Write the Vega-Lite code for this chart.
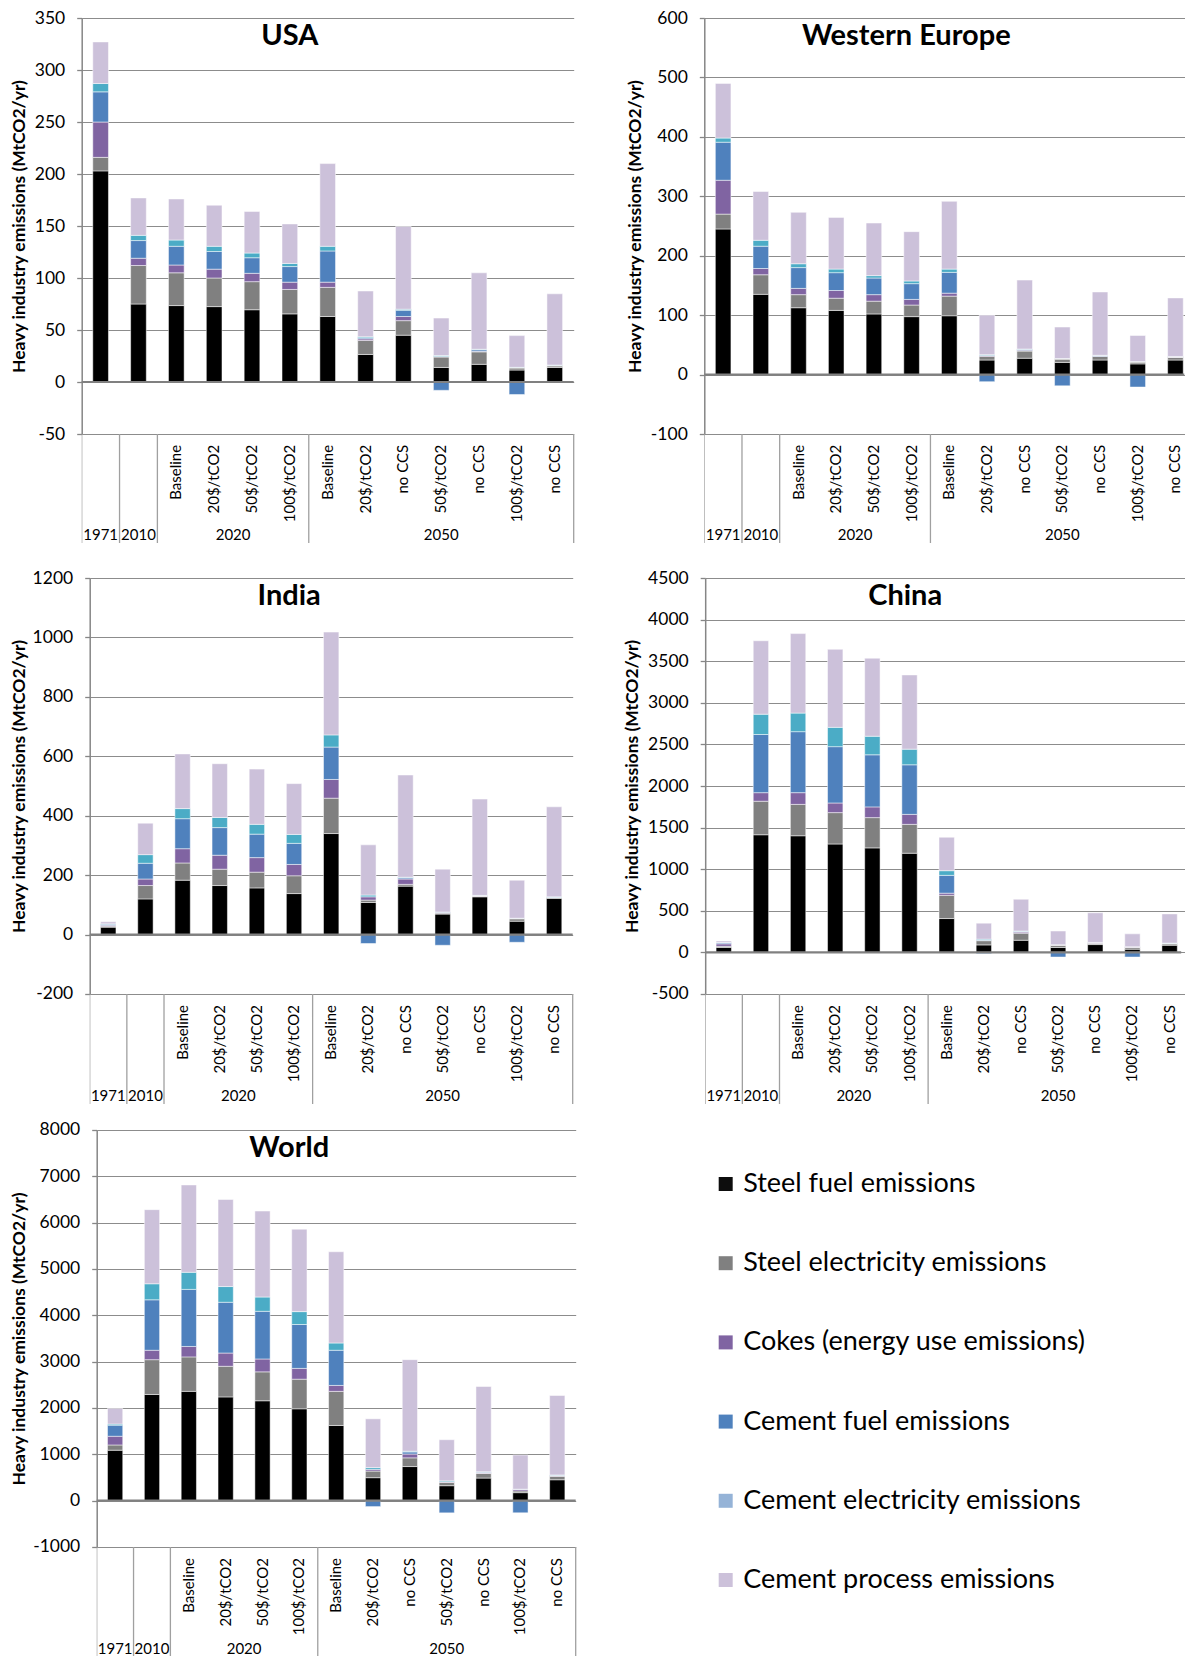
{
  "$schema": "https://vega.github.io/schema/vega-lite/v6.json",
  "background": "white",
  "padding": {"left": 8.7, "top": 9, "right": 0, "bottom": 0},
  "config": {
    "font": "Lato",
    "locale": {"number": {"decimal": ".", "thousands": ",", "grouping": [3], "currency": ["$", ""], "minus": "-"}},
    "view": {"stroke": null},
    "axisY": {"domainColor": "#868686", "domainWidth": 1.5, "tickColor": "#868686", "tickWidth": 1.3, "tickSize": 5, "gridColor": "#8c8c8c", "gridWidth": 1.2, "labelFontSize": 17.5, "labelColor": "#000000", "labelPadding": 12, "titleFontSize": 17.5, "titleFontWeight": "bold", "titleColor": "#000000", "titlePadding": 6, "format": "d"},
    "title": {"fontSize": 29, "fontWeight": "bold", "color": "#000000", "anchor": "middle", "frame": "group", "offset": -42},
    "text": {"color": "#000000"}
  },
  "datasets": {
    "series": [
      {"code": "sf", "series": "Steel fuel emissions", "k": 1},
      {"code": "se", "series": "Steel electricity emissions", "k": 2},
      {"code": "ck", "series": "Cokes (energy use emissions)", "k": 3},
      {"code": "cf", "series": "Cement fuel emissions", "k": 4},
      {"code": "ce", "series": "Cement electricity emissions", "k": 5},
      {"code": "cp", "series": "Cement process emissions", "k": 6}
    ],
    "cats": [
      {"cat": "1971", "year": "1971", "label": ""},
      {"cat": "2010", "year": "2010", "label": ""},
      {"cat": "2020 Baseline", "year": "2020", "label": "Baseline"},
      {"cat": "2020 20$/tCO2", "year": "2020", "label": "20$/tCO2"},
      {"cat": "2020 50$/tCO2", "year": "2020", "label": "50$/tCO2"},
      {"cat": "2020 100$/tCO2", "year": "2020", "label": "100$/tCO2"},
      {"cat": "2050 Baseline", "year": "2050", "label": "Baseline"},
      {"cat": "2050 20$/tCO2", "year": "2050", "label": "20$/tCO2"},
      {"cat": "2050 20$/tCO2 no CCS", "year": "2050", "label": "no CCS"},
      {"cat": "2050 50$/tCO2", "year": "2050", "label": "50$/tCO2"},
      {"cat": "2050 50$/tCO2 no CCS", "year": "2050", "label": "no CCS"},
      {"cat": "2050 100$/tCO2", "year": "2050", "label": "100$/tCO2"},
      {"cat": "2050 100$/tCO2 no CCS", "year": "2050", "label": "no CCS"}
    ],
    "emissions": [
      {"region": "USA", "cat": "1971", "sf": 203, "se": 13, "ck": 34, "cf": 29, "ce": 8, "cp": 40},
      {"region": "USA", "cat": "2010", "sf": 75, "se": 37, "ck": 7, "cf": 17, "ce": 5, "cp": 36},
      {"region": "USA", "cat": "2020 Baseline", "sf": 73.5, "se": 31.5, "ck": 7.5, "cf": 18, "ce": 6, "cp": 39.5},
      {"region": "USA", "cat": "2020 20$/tCO2", "sf": 72.5, "se": 27.5, "ck": 8.5, "cf": 17, "ce": 5, "cp": 39.5},
      {"region": "USA", "cat": "2020 50$/tCO2", "sf": 69.5, "se": 27, "ck": 8, "cf": 15, "ce": 4.5, "cp": 40},
      {"region": "USA", "cat": "2020 100$/tCO2", "sf": 65.5, "se": 23.5, "ck": 7, "cf": 15, "ce": 3, "cp": 38},
      {"region": "USA", "cat": "2050 Baseline", "sf": 63, "se": 28, "ck": 5, "cf": 30, "ce": 4.5, "cp": 79.5},
      {"region": "USA", "cat": "2050 20$/tCO2", "sf": 26.5, "se": 13.5, "ck": 1.5, "cf": 1, "ce": 1, "cp": 44},
      {"region": "USA", "cat": "2050 20$/tCO2 no CCS", "sf": 45, "se": 14, "ck": 4, "cf": 6, "ce": 1, "cp": 79.5},
      {"region": "USA", "cat": "2050 50$/tCO2", "sf": 14, "se": 10, "ck": 0.5, "cf": -8, "ce": 1, "cp": 36},
      {"region": "USA", "cat": "2050 50$/tCO2 no CCS", "sf": 17, "se": 12, "ck": 0.5, "cf": 1.5, "ce": 0.5, "cp": 73.5},
      {"region": "USA", "cat": "2050 100$/tCO2", "sf": 11.5, "se": 2, "ck": 0.3, "cf": -12, "ce": 0.3, "cp": 30.5},
      {"region": "USA", "cat": "2050 100$/tCO2 no CCS", "sf": 14, "se": 1.5, "ck": 0.3, "cf": 0.3, "ce": 0.2, "cp": 68.5},
      {"region": "Western Europe", "cat": "1971", "sf": 245, "se": 25, "ck": 57, "cf": 64, "ce": 7, "cp": 92},
      {"region": "Western Europe", "cat": "2010", "sf": 135, "se": 33, "ck": 10.5, "cf": 37.5, "ce": 10, "cp": 82},
      {"region": "Western Europe", "cat": "2020 Baseline", "sf": 112.5, "se": 22, "ck": 10.5, "cf": 35, "ce": 6.5, "cp": 86.5},
      {"region": "Western Europe", "cat": "2020 20$/tCO2", "sf": 108, "se": 20.5, "ck": 13, "cf": 30, "ce": 6, "cp": 87},
      {"region": "Western Europe", "cat": "2020 50$/tCO2", "sf": 102, "se": 21.5, "ck": 11, "cf": 28, "ce": 4, "cp": 88.5},
      {"region": "Western Europe", "cat": "2020 100$/tCO2", "sf": 97.5, "se": 19.5, "ck": 9.5, "cf": 26.5, "ce": 4.5, "cp": 83},
      {"region": "Western Europe", "cat": "2050 Baseline", "sf": 99, "se": 33, "ck": 5, "cf": 35, "ce": 5.5, "cp": 114},
      {"region": "Western Europe", "cat": "2050 20$/tCO2", "sf": 24.5, "se": 6, "ck": 1.5, "cf": -12, "ce": 1.5, "cp": 66.5},
      {"region": "Western Europe", "cat": "2050 20$/tCO2 no CCS", "sf": 27.5, "se": 12, "ck": 1.5, "cf": 1.5, "ce": 0.5, "cp": 116},
      {"region": "Western Europe", "cat": "2050 50$/tCO2", "sf": 20.5, "se": 5.5, "ck": 0.5, "cf": -19, "ce": 0.5, "cp": 53},
      {"region": "Western Europe", "cat": "2050 50$/tCO2 no CCS", "sf": 24.5, "se": 6, "ck": 0.5, "cf": 1, "ce": 0.5, "cp": 106.5},
      {"region": "Western Europe", "cat": "2050 100$/tCO2", "sf": 18, "se": 3, "ck": 0.5, "cf": -21, "ce": 0.3, "cp": 44},
      {"region": "Western Europe", "cat": "2050 100$/tCO2 no CCS", "sf": 24.5, "se": 4.5, "ck": 0.5, "cf": 0.5, "ce": 0.5, "cp": 98.5},
      {"region": "India", "cat": "1971", "sf": 25, "se": 3, "ck": 3, "cf": 4, "ce": 1, "cp": 7},
      {"region": "India", "cat": "2010", "sf": 120, "se": 45, "ck": 22, "cf": 53, "ce": 29, "cp": 106},
      {"region": "India", "cat": "2020 Baseline", "sf": 183, "se": 58, "ck": 48, "cf": 101, "ce": 34, "cp": 184},
      {"region": "India", "cat": "2020 20$/tCO2", "sf": 165, "se": 55, "ck": 47, "cf": 93, "ce": 34, "cp": 181},
      {"region": "India", "cat": "2020 50$/tCO2", "sf": 157, "se": 53, "ck": 49, "cf": 79, "ce": 33, "cp": 186},
      {"region": "India", "cat": "2020 100$/tCO2", "sf": 138, "se": 60, "ck": 38, "cf": 71, "ce": 30, "cp": 171},
      {"region": "India", "cat": "2050 Baseline", "sf": 340, "se": 119, "ck": 63, "cf": 109, "ce": 41, "cp": 346},
      {"region": "India", "cat": "2050 20$/tCO2", "sf": 108, "se": 8, "ck": 11, "cf": -30, "ce": 6, "cp": 169},
      {"region": "India", "cat": "2050 20$/tCO2 no CCS", "sf": 163, "se": 6, "ck": 18, "cf": 4, "ce": 2, "cp": 344},
      {"region": "India", "cat": "2050 50$/tCO2", "sf": 69, "se": 3, "ck": 3, "cf": -36, "ce": 1, "cp": 144},
      {"region": "India", "cat": "2050 50$/tCO2 no CCS", "sf": 127, "se": 2, "ck": 1, "cf": 1, "ce": 1, "cp": 324},
      {"region": "India", "cat": "2050 100$/tCO2", "sf": 45, "se": 8, "ck": 1, "cf": -26, "ce": 1, "cp": 128},
      {"region": "India", "cat": "2050 100$/tCO2 no CCS", "sf": 122, "se": 2, "ck": 1, "cf": 1, "ce": 1, "cp": 303},
      {"region": "China", "cat": "1971", "sf": 60, "se": 13, "ck": 30, "cf": 13, "ce": 3, "cp": 18},
      {"region": "China", "cat": "2010", "sf": 1414, "se": 403, "ck": 103, "cf": 699, "ce": 244, "cp": 883},
      {"region": "China", "cat": "2020 Baseline", "sf": 1402, "se": 377, "ck": 141, "cf": 733, "ce": 223, "cp": 956},
      {"region": "China", "cat": "2020 20$/tCO2", "sf": 1303, "se": 377, "ck": 116, "cf": 677, "ce": 232, "cp": 938},
      {"region": "China", "cat": "2020 50$/tCO2", "sf": 1256, "se": 364, "ck": 129, "cf": 626, "ce": 223, "cp": 938},
      {"region": "China", "cat": "2020 100$/tCO2", "sf": 1192, "se": 347, "ck": 120, "cf": 596, "ce": 188, "cp": 892},
      {"region": "China", "cat": "2050 Baseline", "sf": 407, "se": 279, "ck": 26, "cf": 214, "ce": 56, "cp": 402},
      {"region": "China", "cat": "2050 20$/tCO2", "sf": 90, "se": 51, "ck": 5, "cf": -15, "ce": 13, "cp": 192},
      {"region": "China", "cat": "2050 20$/tCO2 no CCS", "sf": 146, "se": 85, "ck": 13, "cf": 9, "ce": 4, "cp": 382},
      {"region": "China", "cat": "2050 50$/tCO2", "sf": 60, "se": 26, "ck": 3, "cf": -56, "ce": 3, "cp": 165},
      {"region": "China", "cat": "2050 50$/tCO2 no CCS", "sf": 94, "se": 17, "ck": 3, "cf": 3, "ce": 3, "cp": 356},
      {"region": "China", "cat": "2050 100$/tCO2", "sf": 39, "se": 21, "ck": 5, "cf": -56, "ce": 3, "cp": 155},
      {"region": "China", "cat": "2050 100$/tCO2 no CCS", "sf": 86, "se": 17, "ck": 3, "cf": 3, "ce": 3, "cp": 351},
      {"region": "World", "cat": "1971", "sf": 1089, "se": 113, "ck": 188, "cf": 240, "ce": 23, "cp": 338},
      {"region": "World", "cat": "2010", "sf": 2292, "se": 751, "ck": 203, "cf": 1089, "ce": 346, "cp": 1600},
      {"region": "World", "cat": "2020 Baseline", "sf": 2359, "se": 744, "ck": 225, "cf": 1232, "ce": 369, "cp": 1885},
      {"region": "World", "cat": "2020 20$/tCO2", "sf": 2239, "se": 661, "ck": 286, "cf": 1096, "ce": 339, "cp": 1878},
      {"region": "World", "cat": "2020 50$/tCO2", "sf": 2156, "se": 624, "ck": 278, "cf": 1029, "ce": 308, "cp": 1856},
      {"region": "World", "cat": "2020 100$/tCO2", "sf": 1983, "se": 639, "ck": 233, "cf": 947, "ce": 278, "cp": 1780},
      {"region": "World", "cat": "2050 Baseline", "sf": 1623, "se": 736, "ck": 128, "cf": 759, "ce": 157, "cp": 1969},
      {"region": "World", "cat": "2050 20$/tCO2", "sf": 496, "se": 143, "ck": 37, "cf": -128, "ce": 38, "cp": 1052},
      {"region": "World", "cat": "2050 20$/tCO2 no CCS", "sf": 736, "se": 188, "ck": 83, "cf": 45, "ce": 15, "cp": 1976},
      {"region": "World", "cat": "2050 50$/tCO2", "sf": 323, "se": 68, "ck": 15, "cf": -263, "ce": 22, "cp": 887},
      {"region": "World", "cat": "2050 50$/tCO2 no CCS", "sf": 488, "se": 98, "ck": 15, "cf": 15, "ce": 8, "cp": 1840},
      {"region": "World", "cat": "2050 100$/tCO2", "sf": 173, "se": 37, "ck": 30, "cf": -263, "ce": 8, "cp": 736},
      {"region": "World", "cat": "2050 100$/tCO2 no CCS", "sf": 451, "se": 75, "ck": 10, "cf": 12, "ce": 8, "cp": 1713}
    ]
  },
  "columns": 1,
  "spacing": 25,
  "resolve": {"scale": {"color": "independent"}},
  "concat": [
    {
      "spacing": 0,
      "hconcat": [
        {"width": 1, "height": 1, "data": {"values": [{}]}, "mark": {"type": "text", "text": ""}, "encoding": {}},
        {
          "spacing": 50.6,
          "hconcat": [
            {
              "bounds": "flush", "spacing": 0,
              "vconcat": [
                {
                  "width": 492, "height": 416,
                  "title": {"text": "USA", "dx": -38},
                  "layer": [
                    {
                      "data": {"name": "emissions"},
                      "transform": [
                        {"filter": "datum.region == 'USA'"},
                        {"fold": ["sf", "se", "ck", "cf", "ce", "cp"], "as": ["code", "v"]},
                        {"lookup": "code", "from": {"data": {"name": "series"}, "key": "code", "fields": ["series", "k"]}}
                      ],
                      "mark": {"type": "bar", "stroke": "#ffffff", "strokeWidth": 0.5, "clip": true},
                      "encoding": {
                        "x": {"field": "cat", "type": "nominal", "scale": {"domain": ["1971","2010","2020 Baseline","2020 20$/tCO2","2020 50$/tCO2","2020 100$/tCO2","2050 Baseline","2050 20$/tCO2","2050 20$/tCO2 no CCS","2050 50$/tCO2","2050 50$/tCO2 no CCS","2050 100$/tCO2","2050 100$/tCO2 no CCS"], "paddingInner": 0.586, "paddingOuter": 0.293}, "axis": null},
                        "y": {"field": "v", "type": "quantitative", "stack": "zero", "scale": {"domain": [-50, 350], "nice": false}, "axis": {"values": [-50, 0, 50, 100, 150, 200, 250, 300, 350], "title": "Heavy industry emissions (MtCO2/yr)"}},
                        "color": {"field": "series", "type": "nominal", "scale": {"domain": ["Steel fuel emissions", "Steel electricity emissions", "Cokes (energy use emissions)", "Cement fuel emissions", "Cement electricity emissions", "Cement process emissions"], "range": ["#000000", "#808080", "#8064A2", "#4F81BD", "#4BACC6", "#CCC1DA"]}, "legend": null},
                        "order": {"field": "k", "type": "quantitative", "sort": "ascending"}
                      }
                    },
                    {"data": {"values": [{}]}, "mark": {"type": "rule", "color": "#808080", "strokeWidth": 2.2}, "encoding": {"y": {"datum": 0, "type": "quantitative"}}}
                  ]
                },
                {
                  "width": 492, "height": 109,
                  "data": {"name": "cats"},
                  "layer": [
                    {"transform": [{"filter": "datum.label == '' || datum.label == 'Baseline'"}], "mark": {"type": "rule", "color": "#a0a0a0", "strokeWidth": 1.3, "clip": true}, "encoding": {"x": {"field": "cat", "type": "nominal", "bandPosition": 0, "scale": {"type": "band", "domain": ["1971","2010","2020 Baseline","2020 20$/tCO2","2020 50$/tCO2","2020 100$/tCO2","2050 Baseline","2050 20$/tCO2","2050 20$/tCO2 no CCS","2050 50$/tCO2","2050 50$/tCO2 no CCS","2050 100$/tCO2","2050 100$/tCO2 no CCS"], "paddingInner": 0, "paddingOuter": 0}, "axis": null}}},
                    {"transform": [{"filter": "datum.cat == '2050 100$/tCO2 no CCS'"}], "mark": {"type": "rule", "color": "#a0a0a0", "strokeWidth": 1.3}, "encoding": {"x": {"field": "cat", "type": "nominal", "bandPosition": 1}}},
                    {"mark": {"type": "text", "angle": 270, "align": "right", "baseline": "middle", "fontSize": 15}, "encoding": {"x": {"field": "cat", "type": "nominal"}, "y": {"datum": 0.9, "type": "quantitative", "scale": {"domain": [0, 1]}, "axis": null}, "text": {"field": "label"}}},
                    {"transform": [{"filter": "datum.cat == '1971' || datum.cat == '2010' || datum.cat == '2050 50$/tCO2'"}], "mark": {"type": "text", "baseline": "alphabetic", "fontSize": 15}, "encoding": {"x": {"field": "cat", "type": "nominal"}, "y": {"datum": 0.025, "type": "quantitative"}, "text": {"field": "year"}}},
                    {"transform": [{"filter": "datum.cat == '2020 50$/tCO2'"}], "mark": {"type": "text", "baseline": "alphabetic", "fontSize": 15}, "encoding": {"x": {"field": "cat", "type": "nominal", "bandPosition": 0}, "y": {"datum": 0.025, "type": "quantitative"}, "text": {"field": "year"}}}
                  ]
                }
              ]
            },
            {
              "bounds": "flush", "spacing": 0,
              "vconcat": [
                {
                  "width": 480, "height": 416,
                  "title": {"text": "Western Europe", "dx": -38},
                  "layer": [
                    {
                      "data": {"name": "emissions"},
                      "transform": [
                        {"filter": "datum.region == 'Western Europe'"},
                        {"fold": ["sf", "se", "ck", "cf", "ce", "cp"], "as": ["code", "v"]},
                        {"lookup": "code", "from": {"data": {"name": "series"}, "key": "code", "fields": ["series", "k"]}}
                      ],
                      "mark": {"type": "bar", "stroke": "#ffffff", "strokeWidth": 0.5, "clip": true},
                      "encoding": {
                        "x": {"field": "cat", "type": "nominal", "scale": {"domain": ["1971","2010","2020 Baseline","2020 20$/tCO2","2020 50$/tCO2","2020 100$/tCO2","2050 Baseline","2050 20$/tCO2","2050 20$/tCO2 no CCS","2050 50$/tCO2","2050 50$/tCO2 no CCS","2050 100$/tCO2","2050 100$/tCO2 no CCS"], "paddingInner": 0.586, "paddingOuter": 0.293, "range": [0, 490]}, "axis": null},
                        "y": {"field": "v", "type": "quantitative", "stack": "zero", "scale": {"domain": [-100, 600], "nice": false}, "axis": {"values": [-100, 0, 100, 200, 300, 400, 500, 600], "title": "Heavy industry emissions (MtCO2/yr)"}},
                        "color": {"field": "series", "type": "nominal", "scale": {"domain": ["Steel fuel emissions", "Steel electricity emissions", "Cokes (energy use emissions)", "Cement fuel emissions", "Cement electricity emissions", "Cement process emissions"], "range": ["#000000", "#808080", "#8064A2", "#4F81BD", "#4BACC6", "#CCC1DA"]}, "legend": null},
                        "order": {"field": "k", "type": "quantitative", "sort": "ascending"}
                      }
                    },
                    {"data": {"values": [{}]}, "mark": {"type": "rule", "color": "#808080", "strokeWidth": 2.2}, "encoding": {"y": {"datum": 0, "type": "quantitative"}}}
                  ]
                },
                {
                  "width": 480, "height": 109,
                  "data": {"name": "cats"},
                  "layer": [
                    {"transform": [{"filter": "datum.label == '' || datum.label == 'Baseline'"}], "mark": {"type": "rule", "color": "#a0a0a0", "strokeWidth": 1.3, "clip": true}, "encoding": {"x": {"field": "cat", "type": "nominal", "bandPosition": 0, "scale": {"type": "band", "domain": ["1971","2010","2020 Baseline","2020 20$/tCO2","2020 50$/tCO2","2020 100$/tCO2","2050 Baseline","2050 20$/tCO2","2050 20$/tCO2 no CCS","2050 50$/tCO2","2050 50$/tCO2 no CCS","2050 100$/tCO2","2050 100$/tCO2 no CCS"], "paddingInner": 0, "paddingOuter": 0, "range": [0, 490]}, "axis": null}}},
                    {"mark": {"type": "text", "angle": 270, "align": "right", "baseline": "middle", "fontSize": 15}, "encoding": {"x": {"field": "cat", "type": "nominal"}, "y": {"datum": 0.9, "type": "quantitative", "scale": {"domain": [0, 1]}, "axis": null}, "text": {"field": "label"}}},
                    {"transform": [{"filter": "datum.cat == '1971' || datum.cat == '2010' || datum.cat == '2050 50$/tCO2'"}], "mark": {"type": "text", "baseline": "alphabetic", "fontSize": 15}, "encoding": {"x": {"field": "cat", "type": "nominal"}, "y": {"datum": 0.025, "type": "quantitative"}, "text": {"field": "year"}}},
                    {"transform": [{"filter": "datum.cat == '2020 50$/tCO2'"}], "mark": {"type": "text", "baseline": "alphabetic", "fontSize": 15}, "encoding": {"x": {"field": "cat", "type": "nominal", "bandPosition": 0}, "y": {"datum": 0.025, "type": "quantitative"}, "text": {"field": "year"}}}
                  ]
                }
              ]
            }
          ]
        }
      ]
    },
    {
      "columns": 1,
      "spacing": 16,
      "resolve": {"scale": {"color": "independent"}},
      "concat": [
        {
          "spacing": 0,
          "hconcat": [
            {"width": 1, "height": 1, "data": {"values": [{}]}, "mark": {"type": "text", "text": ""}, "encoding": {}},
            {
              "spacing": 48.5,
              "hconcat": [
                {
                  "bounds": "flush", "spacing": 0,
                  "vconcat": [
                    {
                      "width": 483, "height": 416,
                      "title": {"text": "India", "dx": -42},
                      "layer": [
                        {
                          "data": {"name": "emissions"},
                          "transform": [
                            {"filter": "datum.region == 'India'"},
                            {"fold": ["sf", "se", "ck", "cf", "ce", "cp"], "as": ["code", "v"]},
                            {"lookup": "code", "from": {"data": {"name": "series"}, "key": "code", "fields": ["series", "k"]}}
                          ],
                          "mark": {"type": "bar", "stroke": "#ffffff", "strokeWidth": 0.5, "clip": true},
                          "encoding": {
                            "x": {"field": "cat", "type": "nominal", "scale": {"domain": ["1971","2010","2020 Baseline","2020 20$/tCO2","2020 50$/tCO2","2020 100$/tCO2","2050 Baseline","2050 20$/tCO2","2050 20$/tCO2 no CCS","2050 50$/tCO2","2050 50$/tCO2 no CCS","2050 100$/tCO2","2050 100$/tCO2 no CCS"], "paddingInner": 0.586, "paddingOuter": 0.293}, "axis": null},
                            "y": {"field": "v", "type": "quantitative", "stack": "zero", "scale": {"domain": [-200, 1200], "nice": false}, "axis": {"values": [-200, 0, 200, 400, 600, 800, 1000, 1200], "title": "Heavy industry emissions (MtCO2/yr)", "titlePadding": 4}},
                            "color": {"field": "series", "type": "nominal", "scale": {"domain": ["Steel fuel emissions", "Steel electricity emissions", "Cokes (energy use emissions)", "Cement fuel emissions", "Cement electricity emissions", "Cement process emissions"], "range": ["#000000", "#808080", "#8064A2", "#4F81BD", "#4BACC6", "#CCC1DA"]}, "legend": null},
                            "order": {"field": "k", "type": "quantitative", "sort": "ascending"}
                          }
                        },
                        {"data": {"values": [{}]}, "mark": {"type": "rule", "color": "#808080", "strokeWidth": 2.2}, "encoding": {"y": {"datum": 0, "type": "quantitative"}}}
                      ]
                    },
                    {
                      "width": 483, "height": 110,
                      "data": {"name": "cats"},
                      "layer": [
                        {"transform": [{"filter": "datum.label == '' || datum.label == 'Baseline'"}], "mark": {"type": "rule", "color": "#a0a0a0", "strokeWidth": 1.3, "clip": true}, "encoding": {"x": {"field": "cat", "type": "nominal", "bandPosition": 0, "scale": {"type": "band", "domain": ["1971","2010","2020 Baseline","2020 20$/tCO2","2020 50$/tCO2","2020 100$/tCO2","2050 Baseline","2050 20$/tCO2","2050 20$/tCO2 no CCS","2050 50$/tCO2","2050 50$/tCO2 no CCS","2050 100$/tCO2","2050 100$/tCO2 no CCS"], "paddingInner": 0, "paddingOuter": 0}, "axis": null}}},
                        {"transform": [{"filter": "datum.cat == '2050 100$/tCO2 no CCS'"}], "mark": {"type": "rule", "color": "#a0a0a0", "strokeWidth": 1.3}, "encoding": {"x": {"field": "cat", "type": "nominal", "bandPosition": 1}}},
                        {"mark": {"type": "text", "angle": 270, "align": "right", "baseline": "middle", "fontSize": 15}, "encoding": {"x": {"field": "cat", "type": "nominal"}, "y": {"datum": 0.9, "type": "quantitative", "scale": {"domain": [0, 1]}, "axis": null}, "text": {"field": "label"}}},
                        {"transform": [{"filter": "datum.cat == '1971' || datum.cat == '2010' || datum.cat == '2050 50$/tCO2'"}], "mark": {"type": "text", "baseline": "alphabetic", "fontSize": 15}, "encoding": {"x": {"field": "cat", "type": "nominal"}, "y": {"datum": 0.025, "type": "quantitative"}, "text": {"field": "year"}}},
                        {"transform": [{"filter": "datum.cat == '2020 50$/tCO2'"}], "mark": {"type": "text", "baseline": "alphabetic", "fontSize": 15}, "encoding": {"x": {"field": "cat", "type": "nominal", "bandPosition": 0}, "y": {"datum": 0.025, "type": "quantitative"}, "text": {"field": "year"}}}
                      ]
                    }
                  ]
                },
                {
                  "bounds": "flush", "spacing": 0,
                  "vconcat": [
                    {
                      "width": 476, "height": 416,
                      "title": {"text": "China", "dx": -38},
                      "layer": [
                        {
                          "data": {"name": "emissions"},
                          "transform": [
                            {"filter": "datum.region == 'China'"},
                            {"fold": ["sf", "se", "ck", "cf", "ce", "cp"], "as": ["code", "v"]},
                            {"lookup": "code", "from": {"data": {"name": "series"}, "key": "code", "fields": ["series", "k"]}}
                          ],
                          "mark": {"type": "bar", "stroke": "#ffffff", "strokeWidth": 0.5, "clip": true},
                          "encoding": {
                            "x": {"field": "cat", "type": "nominal", "scale": {"domain": ["1971","2010","2020 Baseline","2020 20$/tCO2","2020 50$/tCO2","2020 100$/tCO2","2050 Baseline","2050 20$/tCO2","2050 20$/tCO2 no CCS","2050 50$/tCO2","2050 50$/tCO2 no CCS","2050 100$/tCO2","2050 100$/tCO2 no CCS"], "paddingInner": 0.586, "paddingOuter": 0.293, "range": [0, 483]}, "axis": null},
                            "y": {"field": "v", "type": "quantitative", "stack": "zero", "scale": {"domain": [-500, 4500], "nice": false}, "axis": {"values": [-500, 0, 500, 1000, 1500, 2000, 2500, 3000, 3500, 4000, 4500], "title": "Heavy industry emissions (MtCO2/yr)"}},
                            "color": {"field": "series", "type": "nominal", "scale": {"domain": ["Steel fuel emissions", "Steel electricity emissions", "Cokes (energy use emissions)", "Cement fuel emissions", "Cement electricity emissions", "Cement process emissions"], "range": ["#000000", "#808080", "#8064A2", "#4F81BD", "#4BACC6", "#CCC1DA"]}, "legend": null},
                            "order": {"field": "k", "type": "quantitative", "sort": "ascending"}
                          }
                        },
                        {"data": {"values": [{}]}, "mark": {"type": "rule", "color": "#808080", "strokeWidth": 2.2}, "encoding": {"y": {"datum": 0, "type": "quantitative"}}}
                      ]
                    },
                    {
                      "width": 476, "height": 110,
                      "data": {"name": "cats"},
                      "layer": [
                        {"transform": [{"filter": "datum.label == '' || datum.label == 'Baseline'"}], "mark": {"type": "rule", "color": "#a0a0a0", "strokeWidth": 1.3, "clip": true}, "encoding": {"x": {"field": "cat", "type": "nominal", "bandPosition": 0, "scale": {"type": "band", "domain": ["1971","2010","2020 Baseline","2020 20$/tCO2","2020 50$/tCO2","2020 100$/tCO2","2050 Baseline","2050 20$/tCO2","2050 20$/tCO2 no CCS","2050 50$/tCO2","2050 50$/tCO2 no CCS","2050 100$/tCO2","2050 100$/tCO2 no CCS"], "paddingInner": 0, "paddingOuter": 0, "range": [0, 483]}, "axis": null}}},
                        {"mark": {"type": "text", "angle": 270, "align": "right", "baseline": "middle", "fontSize": 15}, "encoding": {"x": {"field": "cat", "type": "nominal"}, "y": {"datum": 0.9, "type": "quantitative", "scale": {"domain": [0, 1]}, "axis": null}, "text": {"field": "label"}}},
                        {"transform": [{"filter": "datum.cat == '1971' || datum.cat == '2010' || datum.cat == '2050 50$/tCO2'"}], "mark": {"type": "text", "baseline": "alphabetic", "fontSize": 15}, "encoding": {"x": {"field": "cat", "type": "nominal"}, "y": {"datum": 0.025, "type": "quantitative"}, "text": {"field": "year"}}},
                        {"transform": [{"filter": "datum.cat == '2020 50$/tCO2'"}], "mark": {"type": "text", "baseline": "alphabetic", "fontSize": 15}, "encoding": {"x": {"field": "cat", "type": "nominal", "bandPosition": 0}, "y": {"datum": 0.025, "type": "quantitative"}, "text": {"field": "year"}}}
                      ]
                    }
                  ]
                }
              ]
            }
          ]
        },
        {
          "spacing": 0,
          "resolve": {"scale": {"color": "independent"}},
          "hconcat": [
            {"width": 1, "height": 1, "data": {"values": [{}]}, "mark": {"type": "text", "text": ""}, "encoding": {}},
            {
              "spacing": 141,
              "resolve": {"scale": {"color": "independent"}},
              "hconcat": [
                {
                  "bounds": "flush", "spacing": 0,
                  "vconcat": [
                    {
                      "width": 479, "height": 417,
                      "title": {"text": "World", "dx": -47},
                      "layer": [
                        {
                          "data": {"name": "emissions"},
                          "transform": [
                            {"filter": "datum.region == 'World'"},
                            {"fold": ["sf", "se", "ck", "cf", "ce", "cp"], "as": ["code", "v"]},
                            {"lookup": "code", "from": {"data": {"name": "series"}, "key": "code", "fields": ["series", "k"]}}
                          ],
                          "mark": {"type": "bar", "stroke": "#ffffff", "strokeWidth": 0.5, "clip": true},
                          "encoding": {
                            "x": {"field": "cat", "type": "nominal", "scale": {"domain": ["1971","2010","2020 Baseline","2020 20$/tCO2","2020 50$/tCO2","2020 100$/tCO2","2050 Baseline","2050 20$/tCO2","2050 20$/tCO2 no CCS","2050 50$/tCO2","2050 50$/tCO2 no CCS","2050 100$/tCO2","2050 100$/tCO2 no CCS"], "paddingInner": 0.586, "paddingOuter": 0.293}, "axis": null},
                            "y": {"field": "v", "type": "quantitative", "stack": "zero", "scale": {"domain": [-1000, 8000], "nice": false}, "axis": {"values": [-1000, 0, 1000, 2000, 3000, 4000, 5000, 6000, 7000, 8000], "title": "Heavy industry emissions (MtCO2/yr)", "titlePadding": 4}},
                            "color": {"field": "series", "type": "nominal", "scale": {"domain": ["Steel fuel emissions", "Steel electricity emissions", "Cokes (energy use emissions)", "Cement fuel emissions", "Cement electricity emissions", "Cement process emissions"], "range": ["#000000", "#808080", "#8064A2", "#4F81BD", "#4BACC6", "#CCC1DA"]}, "legend": null},
                            "order": {"field": "k", "type": "quantitative", "sort": "ascending"}
                          }
                        },
                        {"data": {"values": [{}]}, "mark": {"type": "rule", "color": "#808080", "strokeWidth": 2.2}, "encoding": {"y": {"datum": 0, "type": "quantitative"}}}
                      ]
                    },
                    {
                      "width": 479, "height": 110,
                      "data": {"name": "cats"},
                      "layer": [
                        {"transform": [{"filter": "datum.label == '' || datum.label == 'Baseline'"}], "mark": {"type": "rule", "color": "#a0a0a0", "strokeWidth": 1.3, "clip": true}, "encoding": {"x": {"field": "cat", "type": "nominal", "bandPosition": 0, "scale": {"type": "band", "domain": ["1971","2010","2020 Baseline","2020 20$/tCO2","2020 50$/tCO2","2020 100$/tCO2","2050 Baseline","2050 20$/tCO2","2050 20$/tCO2 no CCS","2050 50$/tCO2","2050 50$/tCO2 no CCS","2050 100$/tCO2","2050 100$/tCO2 no CCS"], "paddingInner": 0, "paddingOuter": 0}, "axis": null}}},
                        {"transform": [{"filter": "datum.cat == '2050 100$/tCO2 no CCS'"}], "mark": {"type": "rule", "color": "#a0a0a0", "strokeWidth": 1.3}, "encoding": {"x": {"field": "cat", "type": "nominal", "bandPosition": 1}}},
                        {"mark": {"type": "text", "angle": 270, "align": "right", "baseline": "middle", "fontSize": 15}, "encoding": {"x": {"field": "cat", "type": "nominal"}, "y": {"datum": 0.9, "type": "quantitative", "scale": {"domain": [0, 1]}, "axis": null}, "text": {"field": "label"}}},
                        {"transform": [{"filter": "datum.cat == '1971' || datum.cat == '2010' || datum.cat == '2050 50$/tCO2'"}], "mark": {"type": "text", "baseline": "alphabetic", "fontSize": 15}, "encoding": {"x": {"field": "cat", "type": "nominal"}, "y": {"datum": 0.025, "type": "quantitative"}, "text": {"field": "year"}}},
                        {"transform": [{"filter": "datum.cat == '2020 50$/tCO2'"}], "mark": {"type": "text", "baseline": "alphabetic", "fontSize": 15}, "encoding": {"x": {"field": "cat", "type": "nominal", "bandPosition": 0}, "y": {"datum": 0.025, "type": "quantitative"}, "text": {"field": "year"}}}
                      ]
                    }
                  ]
                },
                {
                  "width": 440, "height": 504,
                  "data": {"name": "series"},
                  "layer": [
                    {"mark": {"type": "point", "shape": "square", "filled": true, "size": 196, "opacity": 1, "strokeWidth": 0},
                     "encoding": {
                       "y": {"field": "series", "type": "nominal", "scale": {"type": "point", "domain": ["Steel fuel emissions", "Steel electricity emissions", "Cokes (energy use emissions)", "Cement fuel emissions", "Cement electricity emissions", "Cement process emissions"], "padding": 0.682}, "axis": null},
                       "x": {"datum": 0, "type": "quantitative", "scale": {"domain": [0, 1]}, "axis": null},
                       "color": {"field": "series", "type": "nominal", "scale": {"domain": ["Steel fuel emissions", "Steel electricity emissions", "Cokes (energy use emissions)", "Cement fuel emissions", "Cement electricity emissions", "Cement process emissions"], "range": ["#0d0d0d", "#808080", "#8064A2", "#4F81BD", "#95B3D7", "#CCC1DA"]}, "legend": null}
                     }},
                    {"mark": {"type": "text", "align": "left", "baseline": "middle", "dx": 17.5, "fontSize": 27},
                     "encoding": {
                       "y": {"field": "series", "type": "nominal"},
                       "x": {"datum": 0, "type": "quantitative"},
                       "text": {"field": "series"}
                     }}
                  ]
                }
              ]
            }
          ]
        }
      ]
    }
  ]
}
